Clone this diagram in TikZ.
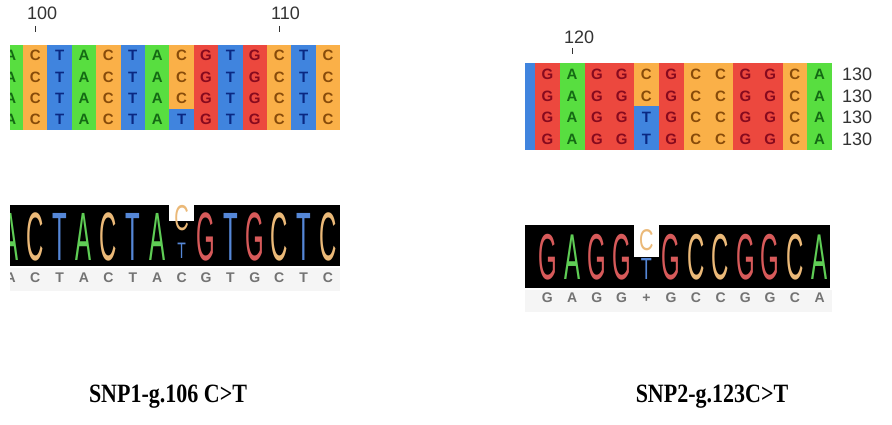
\documentclass[tikz,border=0pt]{standalone}
\usepackage{fontspec}
\setmainfont{Liberation Serif}
\setsansfont{Liberation Sans}
\definecolor{cA}{RGB}{88,222,64}
\definecolor{cC}{RGB}{250,176,72}
\definecolor{cT}{RGB}{64,132,222}
\definecolor{cG}{RGB}{236,72,62}
\definecolor{tA}{RGB}{20,105,20}
\definecolor{tC}{RGB}{135,75,10}
\definecolor{tT}{RGB}{10,40,130}
\definecolor{tG}{RGB}{135,10,30}
\definecolor{kA}{RGB}{95,205,85}
\definecolor{kC}{RGB}{235,185,120}
\definecolor{kT}{RGB}{85,135,215}
\definecolor{kG}{RGB}{215,90,90}
\tikzset{
  alnletter/.style={font=\sffamily\bfseries\fontsize{15}{15}\selectfont, inner sep=0pt, text height=10.8pt, text depth=0pt},
  posnum/.style={font=\sffamily\fontsize{18}{18}\selectfont, inner sep=0pt, text=black!80, text height=12.9pt, text depth=0pt},
  logoletter/.style={font=\sffamily\fontsize{24}{24}\selectfont, inner sep=0pt, text height=17.2pt, text depth=0pt},
  smallC/.style={font=\sffamily\fontsize{20}{20}\selectfont, inner sep=0pt, text=kC, text height=14.3pt, text depth=0pt},
  smallT/.style={font=\sffamily\fontsize{#1}{#1}\selectfont, inner sep=0pt, text=kT, text height=0.716*#1pt, text depth=0pt},
  seqletter/.style={font=\sffamily\bfseries\fontsize{14}{14}\selectfont, inner sep=0pt, text=black!55, text height=10pt, text depth=0pt},
  snplabel/.style={font=\bfseries\fontsize{22}{22}\selectfont, inner sep=0pt, yscale=1.2},
  tickmark/.style={line width=1.2pt, black!80}
}
\begin{document}
\begin{tikzpicture}[x=1pt,y=-1pt]
\useasboundingbox (0,0) rectangle (892,425);
\fill[white] (0,0) rectangle (892,425);

% ---------------- left panel ----------------
\node[posnum, anchor=west] (n100) at (27,13) {100};
\node[posnum, anchor=west] (n110) at (271,13) {110};
\coordinate (t100a) at (35.2,26); \coordinate (t100b) at (35.2,32);
\coordinate (t110a) at (279.2,26); \coordinate (t110b) at (279.2,32);
\draw[tickmark] (t100a) -- (t100b);
\draw[tickmark] (t110a) -- (t110b);
\begin{scope}
\clip (10,0) rectangle (340.2,425);
\foreach \row [count=\r from 0] in {{A,C,T,A,C,T,A,C,G,T,G,C,T,C},{A,C,T,A,C,T,A,C,G,T,G,C,T,C},{A,C,T,A,C,T,A,C,G,T,G,C,T,C},{A,C,T,A,C,T,A,T,G,T,G,C,T,C}}{
  \foreach \b [count=\i from 0] in \row {
    \fill[fill=c\b] ({-1.4+24.4*\i},{45+21.25*\r}) rectangle ++(24.4,21.25);
    \node[alnletter, text=t\b] (L\r c\i) at ({10.8+24.4*\i},{55.6+21.25*\r}) {\b};
  }
}
% chromatogram logo
\fill[black] (10,205) rectangle (340.2,266);
\fill[white] (169.4,205) rectangle (193.8,221);
\foreach \b [count=\i from 0] in {A,C,T,A,C,T,A,C,G,T,G,C,T,C}{
  \ifnum\i=7\else
  \node[logoletter, text=k\b, yscale=2.85] (LL\i) at ({10.8+24.4*\i},236) {\b};
  \fi
}
\node[smallC, yscale=1.8] (LLc) at (181.6,218) {C};
\node[smallT=14, yscale=1.6] (LLt) at (181.6,250) {T};
% sequence
\fill[black!4] (10,268) rectangle (340.2,291);
\foreach \b [count=\i from 0] in {A,C,T,A,C,T,A,C,G,T,G,C,T,C}{
  \node[seqletter] (LS\i) at ({10.8+24.4*\i},277) {\b};
}
\end{scope}
\node[snplabel] (lab1) at (168,397) {SNP1-g.106 C>T};

% ---------------- right panel ----------------
\node[posnum, anchor=west] (n120) at (564,37) {120};
\coordinate (t120a) at (572.1,48); \coordinate (t120b) at (572.1,54);
\draw[tickmark] (t120a) -- (t120b);
\begin{scope}
\clip (525,0) rectangle (832,425);
\foreach \row [count=\r from 0] in {{T,G,A,G,G,C,G,C,C,G,G,C,A},{T,G,A,G,G,C,G,C,C,G,G,C,A},{T,G,A,G,G,T,G,C,C,G,G,C,A},{T,G,A,G,G,T,G,C,C,G,G,C,A}}{
  \foreach \b [count=\i from 0] in \row {
    \fill[fill=c\b] ({510.25+24.75*\i},{63+21.75*\r}) rectangle ++(24.75,21.75);
    \ifnum\i>0
    \node[alnletter, text=t\b] (R\r c\i) at ({522.6+24.75*\i},{73.9+21.75*\r}) {\b};
    \fi
  }
}
\fill[black] (525,225) rectangle (830,288);
\fill[white] (634,225) rectangle (658.75,257);
\foreach \b [count=\i from 0] in {T,G,A,G,G,C,G,C,C,G,G,C,A}{
  \ifnum\i=5\else
  \ifnum\i>0
  \node[logoletter, text=k\b, yscale=2.7] (RL\i) at ({522.6+24.75*\i},256) {\b};
  \fi
  \fi
}
\node[smallC, yscale=1.5] (RLc) at (646.4,240) {C};
\node[smallT=18, yscale=1.7] (RLt) at (646.4,268.5) {T};
\fill[black!4] (525,290) rectangle (832,312);
\foreach \b [count=\i from 0] in {T,G,A,G,G,+,G,C,C,G,G,C,A}{
  \ifnum\i>0
  \node[seqletter] (RS\i) at ({522.6+24.75*\i},297) {\b};
  \fi
}
\end{scope}
\foreach \r in {0,1,2,3}{
  \node[posnum, anchor=west] (n130-\r) at (842,{73.9+21.75*\r}) {130};
}
\node[snplabel] (lab2) at (712,397) {SNP2-g.123C>T};
\end{tikzpicture}
\end{document}
